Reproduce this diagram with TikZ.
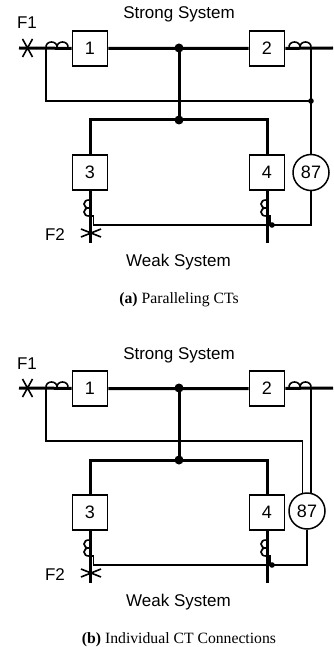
\documentclass[tikz,border=0pt]{standalone}
\usepackage{fontspec}
\setmainfont{Liberation Serif}
\newfontfamily\diagfont{Liberation Sans}
\usetikzlibrary{calc}

\tikzset{
  busline/.style = {line width = 3pt},
  ctwire/.style = {line width = 1.6pt},
  unit/.style = {draw, line width = 1.7pt, minimum size = 35pt, inner sep = 0pt, font = \diagfont\fontsize{18}{20}\selectfont},
  relay/.style = {draw, circle, line width = 1.5pt, minimum size = 36pt, inner sep = 0pt, font = \diagfont\fontsize{18}{20}\selectfont},
  sysname/.style = {anchor = base, inner sep = 0pt, font = \diagfont\fontsize{17}{20}\selectfont},
  capt/.style = {anchor = base, inner sep = 0pt, font = \fontsize{15.7}{18}\selectfont}
}

\begin{document}
\begin{tikzpicture}[x = 1pt, y = -1pt]
%\draw[very thin, color = gray](0, 0) grid[step = 10] (333, 647);
\useasboundingbox (0, 0) rectangle (333, 647);
\foreach \yo/\sub/\captext in {0/a/Paralleling CTs, 340/b/Individual CT Connections}{
\begin{scope}[shift = {(0, \yo)}]
\node [sysname] (strong-\sub) at (179, 19) {Strong System};
\node [sysname] (weak-\sub) at (178.5, 266.5) {Weak System};
\node [sysname] (f1-\sub) at (27, 29) {F1};
\node [sysname] (f2-\sub) at (55, 240) {F2};
\node [capt] (cap-\sub) at (179, 303) {\textbf{(\sub)} \captext};
\node [unit] (u1-\sub) at (90, 48.5) {1};
\node [unit] (u2-\sub) at (267, 48.5) {2};
\node [unit] (u3-\sub) at (90, 172.5) {3};
\node [unit] (u4-\sub) at (267, 172.5) {4};
\coordinate (w-\sub) at (19, 48);
\coordinate (e-\sub) at (333, 48);
\coordinate (top-\sub) at (179, 48);
\coordinate (mid-\sub) at (179, 120);
\coordinate (d3-\sub) at (90, 243);
\coordinate (d4-\sub) at (267, 243);
\coordinate (ct1-\sub) at (46, 48);
\coordinate (ct2-\sub) at (311, 48);
\coordinate (ct3-\sub) at (90, 216);
\coordinate (ct4-\sub) at (267, 216);
\coordinate (j4-\sub) at (272, 225);
% busbars
\draw [busline] (w-\sub) -- (u1-\sub) -- (u2-\sub) -- (e-\sub);
\draw [busline] (top-\sub) -- (mid-\sub);
\draw [busline] (u3-\sub.north) |- (mid-\sub) -| (u4-\sub.north);
\draw [busline] (u3-\sub.south) -- (d3-\sub);
\draw [busline] (u4-\sub.south) -- (d4-\sub);
\fill (top-\sub) circle (4.5);
\fill (mid-\sub) circle (4.5);
% CTs
\draw [ctwire] (46, 48) .. controls (45, 40) and (58, 40) .. (57, 48) .. controls (56, 40) and (69, 40) .. (68, 48);
\draw [ctwire] (289, 48) .. controls (288, 40) and (301, 40) .. (300, 48) .. controls (299, 40) and (312, 40) .. (311, 48);
\draw [ctwire] (90, 200) .. controls (82, 199) and (82, 209) .. (90, 208) .. controls (82, 207) and (82, 217) .. (90, 216);
\draw [ctwire] (267, 200) .. controls (259, 199) and (259, 209) .. (267, 208) .. controls (259, 207) and (259, 217) .. (267, 216);
% faults
\draw [ctwire] (22.5, 39) -- (32.5, 57) (32.5, 39) -- (22.5, 57);
\draw [ctwire] (81, 229) -- (101, 237) (101, 229) -- (81, 237);
% secondary wiring
\draw [ctwire] (ct3-\sub) -- ++(3.5, 0) |- (j4-\sub);
\draw [ctwire] (ct4-\sub) -- ++(3, 0) |- (j4-\sub);
\fill (j4-\sub) circle (2.8);
\end{scope}
}
\node [relay] (r87-a) at (311, 172.5) {87};
\node [relay] (r87-b) at (307, 511) {87};
\coordinate (tap-a) at (311, 101);
\draw [ctwire] (ct2-a) -- (r87-a);
\draw [ctwire] (ct1-a) |- (tap-a);
\fill (tap-a) circle (2.8);
\draw [ctwire] (j4-a) -| (r87-a);
\draw [ctwire] (ct2-b) -- (ct2-b |- r87-b.74);
\draw [ctwire] (ct1-b) -- ++(0, 53) -| (r87-b.104);
\draw [ctwire] (j4-b) -| (r87-b);
\end{tikzpicture}
\end{document}
